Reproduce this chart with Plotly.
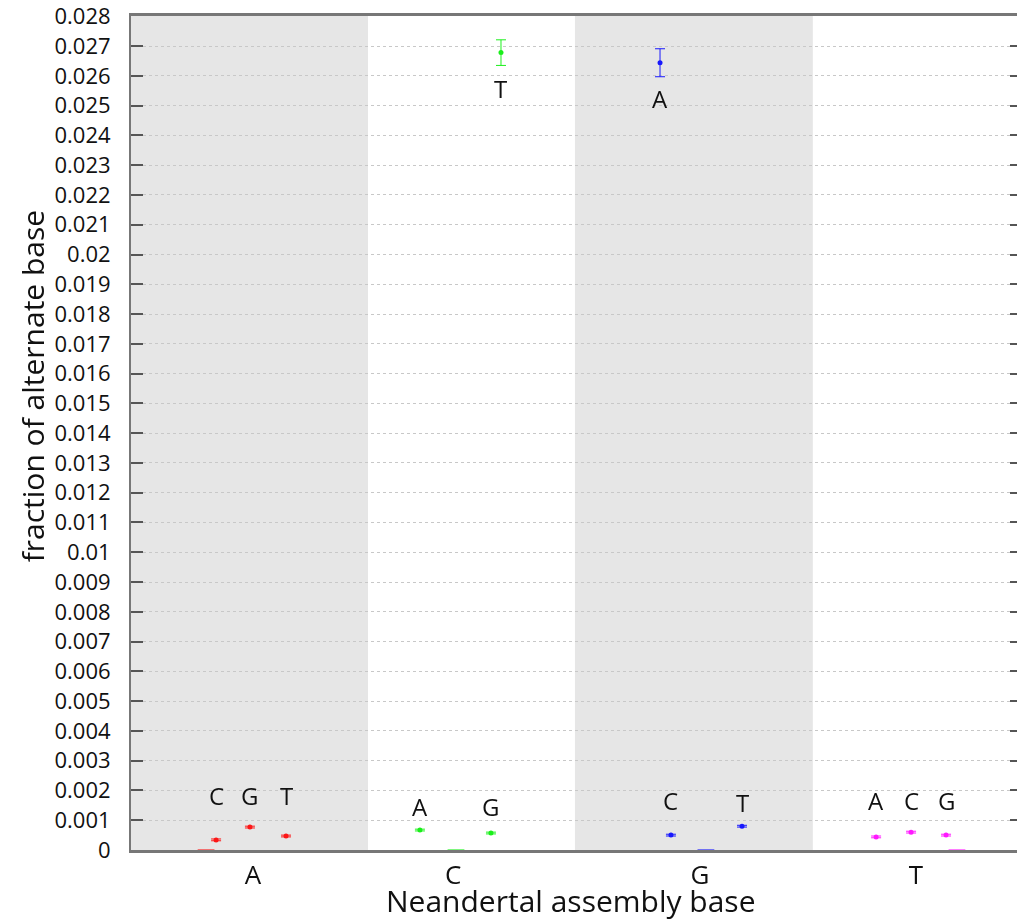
import plotly.graph_objects as go

# ---- data ----
groups = ["A", "C", "G", "T"]
group_colors = ["#ff0000", "#00ee00", "#0000ff", "#ff00ff"]
alt_bases = [
    ["A", "C", "G", "T"],
    ["A", "C", "G", "T"],
    ["A", "C", "G", "T"],
    ["A", "C", "G", "T"],
]
fractions = [
    [0.0, 0.00034, 0.00077, 0.00047],
    [0.00067, 0.0, 0.00057, 0.02678],
    [0.02644, 0.00050, 0.0, 0.00080],
    [0.00044, 0.00060, 0.00050, 0.0],
]
errors = [
    [0.0, 0.00003, 0.00003, 0.00003],
    [0.00003, 0.0, 0.00003, 0.00043],
    [0.00047, 0.00003, 0.0, 0.00003],
    [0.00003, 0.00003, 0.00003, 0.0],
]
# x positions of each alternate base within the axis (axis spans 0..4)
x_pos = [
    [0.337, 0.382, 0.534, 0.696],
    [1.297, 1.459, 1.616, 1.661],
    [2.375, 2.424, 2.581, 2.743],
    [3.345, 3.502, 3.659, 3.708],
]
group_tick_pos = [0.548, 1.446, 2.554, 3.524]
band_edges = [0.0, 1.064, 1.993, 3.061, 4.0]

y_ticks = [i / 1000 for i in range(0, 29)]
y_ticktext = [f"{v:g}" for v in y_ticks]

FONT = "Open Sans, DejaVu Sans"

fig = go.Figure()

for i in range(4):
    if i % 2 == 0:
        fig.add_shape(type="rect", xref="x", yref="paper",
                      x0=band_edges[i], x1=band_edges[i + 1], y0=0, y1=1,
                      fillcolor="#e6e6e6", line_width=0, layer="below")

# pixel offset of label rows above the axis for the small points
label_row_px = {0: 55, 1: 44, 2: 50, 3: 50}

annotations = []
for gi in range(4):
    col = group_colors[gi]
    xs, ys, es = [], [], []
    zx = []
    for j, b in enumerate(alt_bases[gi]):
        v = fractions[gi][j]
        if v == 0:
            zx.append(x_pos[gi][j])
            continue
        xs.append(x_pos[gi][j]); ys.append(v); es.append(errors[gi][j])
        if v > 0.01:
            annotations.append(dict(
                x=x_pos[gi][j], y=v, xref="x", yref="y", text=b, showarrow=False,
                font=dict(family=FONT, size=24, color="#111"), yshift=-36))
        else:
            shift = label_row_px[gi]
            if gi == 2 and b == "T":
                shift = 48
            annotations.append(dict(
                x=x_pos[gi][j], y=0, xref="x", yref="y", text=b, showarrow=False,
                font=dict(family=FONT, size=24, color="#111"), yshift=shift))
    fig.add_trace(go.Scatter(
        x=xs, y=ys, mode="markers",
        marker=dict(color=col, size=5, symbol="circle"),
        error_y=dict(type="data", array=es, visible=True, color=col,
                     thickness=1, width=5),
        opacity=0.9, showlegend=False, cliponaxis=False,
    ))
    fig.add_trace(go.Scatter(
        x=zx, y=[0] * len(zx), mode="markers",
        marker=dict(color=col, size=12, symbol="line-ew",
                    line=dict(color=col, width=2)),
        opacity=0.5, showlegend=False, cliponaxis=False,
    ))

annotations.append(dict(
    text="fraction of alternate base", xref="paper", yref="paper",
    x=0, xshift=-99, y=0.556, xanchor="center", yanchor="middle", textangle=-90,
    showarrow=False, font=dict(family=FONT, size=30, color="#111")))
annotations.append(dict(
    text="Neandertal assembly base", xref="paper", yref="paper",
    x=0.494, y=0, yshift=-50, xanchor="center", yanchor="middle",
    showarrow=False, font=dict(family=FONT, size=30, color="#111")))

# page body has an 8px default margin; compensate so the plot lands in place
fig.update_layout(
    width=1017, height=914,
    margin=dict(l=123, r=3, t=8, b=72),
    plot_bgcolor="white", paper_bgcolor="white",
    font=dict(family=FONT, color="#111"),
    annotations=annotations,
)
fig.update_xaxes(
    range=[0, 4], tickmode="array", tickvals=group_tick_pos, ticktext=groups,
    tickfont=dict(size=26), showgrid=False, zeroline=False, automargin=False,
    showline=True, linecolor="#777", linewidth=3, mirror=True, ticks="",
    ticklabelstandoff=0,
)
fig.update_yaxes(
    range=[0, 0.02801], tickmode="array", tickvals=y_ticks, ticktext=y_ticktext,
    tickfont=dict(size=22), showgrid=True, gridcolor="#c8c8c8", griddash="dot",
    gridwidth=1, zeroline=False, showline=True, linecolor="#777", linewidth=2,
    mirror="ticks", ticks="inside", ticklen=12, tickwidth=2, tickcolor="#555",
    ticklabelstandoff=14, automargin=False, ticklabeloverflow="allow",
)

fig.write_html("out.html")
